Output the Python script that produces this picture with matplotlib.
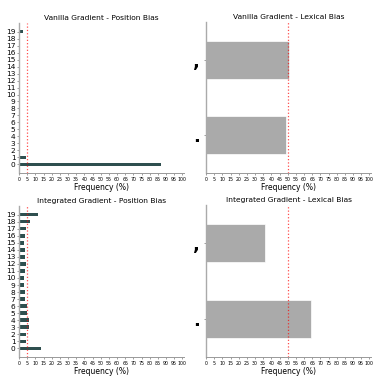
import matplotlib
matplotlib.use("Agg")
import matplotlib.pyplot as plt
import numpy as np

positions = list(range(20))
vanilla_pos = [87.0, 4.5, 0.3, 0.3, 0.3, 0.3, 0.3, 0.3, 0.3, 0.3,
               0.3, 0.3, 0.3, 0.3, 0.3, 0.3, 0.3, 0.3, 0.3, 2.2]
integrated_pos = [13.4, 4.5, 4.1, 6.3, 6.1, 4.9, 4.7, 3.9, 3.5, 3.1,
                  3.3, 3.9, 4.3, 3.7, 3.5, 3.3, 3.5, 4.3, 6.5, 11.4]
tokens = [".", ","]
vanilla_lex = [49.0, 51.0]
integrated_lex = [64.0, 36.0]
xticks = list(range(0, 101, 5))

fig = plt.figure(figsize=(3.81, 3.81), dpi=100)
W = H = 381.0

def ax_px(x0, y0, x1, y1):
    return fig.add_axes([x0 / W, 1 - y1 / H, (x1 - x0) / W, (y1 - y0) / H])

axes = [
    ax_px(19, 23, 184, 173),
    ax_px(206, 22, 371, 173),
    ax_px(19, 206, 184, 357),
    ax_px(206, 205, 371, 357),
]
titles = ["Vanilla Gradient - Position Bias", "Vanilla Gradient - Lexical Bias",
          "Integrated Gradient - Position Bias", "Integrated Gradient - Lexical Bias"]

def style(ax):
    for s in ["top", "right"]:
        ax.spines[s].set_visible(False)
    ax.spines["left"].set_color("#aaaaaa")
    ax.spines["left"].set_linewidth(1.0)
    ax.spines["bottom"].set_color("#999999")
    ax.spines["bottom"].set_linewidth(0.7)
    ax.set_xlim(0, 101)
    ax.set_xticks(xticks)
    ax.set_xticklabels([str(t) for t in xticks], fontsize=3.4)
    ax.tick_params(axis="x", length=1.5, width=0.4, pad=1.2, colors="#555555", labelcolor="black")
    ax.set_xlabel("Frequency (%)", fontsize=5.5, labelpad=1.0)

for ax, vals, t in [(axes[0], vanilla_pos, titles[0]), (axes[2], integrated_pos, titles[2])]:
    ax.barh(positions, vals, height=0.5, color="#2f4f4f")
    ax.axvline(5, color="red", linestyle=":", linewidth=0.9, alpha=0.7)
    style(ax)
    ax.set_yticks(positions)
    ax.set_yticklabels([str(p) for p in positions], fontsize=5.3)
    ax.tick_params(axis="y", length=1.5, width=0.4, pad=1, colors="#555555", labelcolor="black")
    ax.set_title(t, fontsize=5.4, pad=2.5)

for ax, vals, t in [(axes[1], vanilla_lex, titles[1]), (axes[3], integrated_lex, titles[3])]:
    ax.barh([0, 1], vals, height=0.5, color="#aaaaaa", edgecolor="white", linewidth=0.5)
    ax.axvline(50, color="red", linestyle=":", linewidth=0.9, alpha=0.7)
    style(ax)
    ax.set_ylim(-0.5, 1.5)
    ax.set_yticks([0, 1])
    ax.set_yticklabels(tokens, fontsize=13, fontweight="bold")
    ax.tick_params(axis="y", length=1.5, width=0.4, pad=3, colors="#555555", labelcolor="black")
    ax.set_title(t, fontsize=5.4, pad=2.5)

fig.savefig("out.png", dpi=100)
